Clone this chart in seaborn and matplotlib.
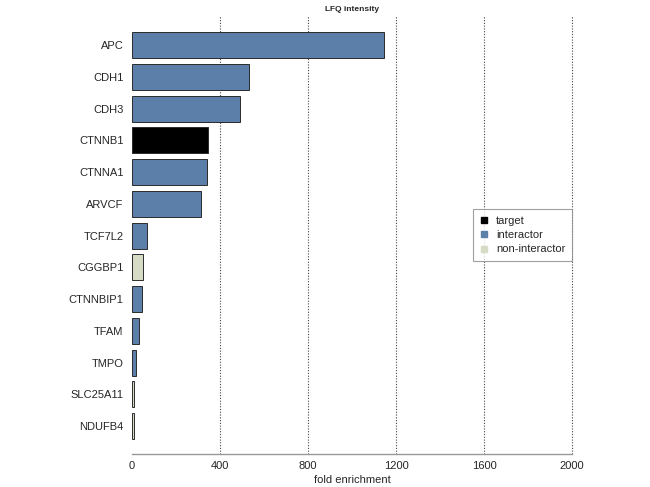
import matplotlib
matplotlib.use("Agg")
import matplotlib.pyplot as plt
from matplotlib.lines import Line2D
import seaborn as sns
import pandas as pd

proteins = ["APC", "CDH1", "CDH3", "CTNNB1", "CTNNA1", "ARVCF", "TCF7L2",
            "CGGBP1", "CTNNBIP1", "TFAM", "TMPO", "SLC25A11", "NDUFB4"]
enrichment = [1147, 532, 492, 345, 341, 314, 68, 51, 47, 32, 19, 8, 8]
category = ["interactor", "interactor", "interactor", "target", "interactor",
            "interactor", "interactor", "non-interactor", "interactor",
            "interactor", "interactor", "non-interactor", "non-interactor"]
categories = ["target", "interactor", "non-interactor"]
colors = {"target": "#000000", "interactor": "#5b7fa9", "non-interactor": "#d5dbc4"}
xticks = [0, 400, 800, 1200, 1600, 2000]

df = pd.DataFrame({"protein": proteins, "enrichment": enrichment, "category": category})

sns.set_style("white")
plt.rcParams["font.family"] = ["Liberation Sans", "DejaVu Sans"]

fig = plt.figure(figsize=(6.5, 4.87), dpi=100)
ax = fig.add_axes([0.203, 0.068, 0.677, 0.899])

sns.barplot(data=df, x="enrichment", y="protein", hue="category",
            hue_order=categories, palette=colors, dodge=False, width=0.82,
            saturation=1, orient="h", ax=ax, legend=False,
            edgecolor="#2b2b2b", linewidth=0.7)

ax.set_xlim(0, 2000)
ax.set_ylim(12.88, -0.92)
ax.set_xticks(xticks)
ax.set_xticklabels([str(t) for t in xticks], fontsize=8)
ax.tick_params(axis="y", labelsize=8, length=0, pad=6)
ax.tick_params(axis="x", direction="out", length=3, color="#888888", width=0.8, pad=2)
for v in xticks[1:]:
    ax.axvline(v, color="#444444", linestyle=(0, (1, 1.5)), linewidth=0.8,
               zorder=0, clip_on=False)

for s in ["top", "right", "left"]:
    ax.spines[s].set_visible(False)
ax.spines["bottom"].set_color("#999999")
ax.spines["bottom"].set_linewidth(1.0)

ax.set_xlabel("fold enrichment", fontsize=8, labelpad=3)
ax.set_ylabel("")
ax.set_title("LFQ intensity", fontsize=6, fontweight="bold", pad=4)

handles = [Line2D([0], [0], marker="s", linestyle="", markersize=4,
                  markerfacecolor=colors[c], markeredgecolor=colors[c], label=c)
           for c in categories]
leg = ax.legend(handles=handles, loc="center right", fontsize=8, frameon=True,
                fancybox=False, handlelength=0.8, handletextpad=0.7,
                borderpad=0.6, labelspacing=0.4, borderaxespad=0.0)
leg.get_frame().set_edgecolor("#888888")
leg.get_frame().set_linewidth(0.8)

fig.savefig("out.png", dpi=100)
